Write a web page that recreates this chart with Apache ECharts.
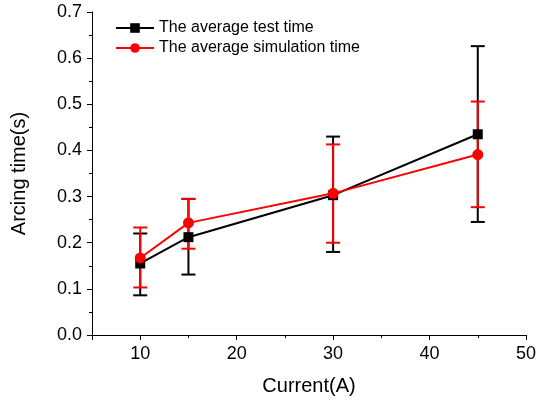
<!DOCTYPE html>
<html>
<head>
<meta charset="utf-8">
<script src="https://cdn.jsdelivr.net/npm/echarts@6/dist/echarts.min.js"></script>
<style>html,body{margin:0;padding:0;background:#fff;}#c{width:539px;height:403px;}</style>
</head>
<body>
<div id="c"></div>
<script>
// Data
var currents = [10, 15, 30, 45];
var testMean = [0.155, 0.212, 0.303, 0.435];
var testLow  = [0.086, 0.131, 0.180, 0.245];
var testHigh = [0.220, 0.295, 0.430, 0.626];
var simMean  = [0.167, 0.243, 0.307, 0.391];
var simLow   = [0.103, 0.187, 0.200, 0.277];
var simHigh  = [0.233, 0.295, 0.413, 0.506];
var xMajorTicks = [5, 10, 20, 30, 40, 50];
var xLabels = [10, 20, 30, 40, 50];
var xMinorTicks = [15, 25, 35, 45];
var yTicks = [0, 0.1, 0.2, 0.3, 0.4, 0.5, 0.6, 0.7];

var FONT = 'Liberation Sans, Arial, sans-serif';

function errSeries(name, color, low, high) {
  return {
    type: 'custom',
    name: name,
    data: currents.map(function (x, i) { return [x, low[i], high[i]]; }),
    silent: true,
    encode: { x: 0, y: [1, 2] },
    renderItem: function (params, api) {
      var x = api.value(0);
      var lo = api.coord([x, api.value(1)]);
      var hi = api.coord([x, api.value(2)]);
      var hw = 7;
      var style = { stroke: color, lineWidth: 2 };
      return {
        type: 'group',
        children: [
          { type: 'line', shape: { x1: lo[0], y1: lo[1], x2: hi[0], y2: hi[1] }, style: style },
          { type: 'line', shape: { x1: lo[0] - hw, y1: lo[1], x2: lo[0] + hw, y2: lo[1] }, style: style },
          { type: 'line', shape: { x1: hi[0] - hw, y1: hi[1], x2: hi[0] + hw, y2: hi[1] }, style: style }
        ]
      };
    },
    z: 2
  };
}

var chart = echarts.init(document.getElementById('c'), null, { renderer: 'canvas' });
chart.setOption({
  animation: false,
  backgroundColor: '#ffffff',
  textStyle: { fontFamily: FONT },
  grid: { left: 92, right: 12, top: 12, bottom: 68 },
  legend: {
    orient: 'vertical',
    left: 110,
    top: 15,
    itemWidth: 38,
    itemHeight: 12,
    itemGap: 4,
    lineStyle: { width: 2 },
    textStyle: { fontFamily: FONT, fontSize: 16, color: '#000' },
    data: ['The average test time', 'The average simulation time']
  },
  xAxis: [{
    type: 'value',
    min: 5, max: 50, interval: 5,
    position: 'bottom',
    name: 'Current(A)',
    nameLocation: 'middle',
    nameGap: 41,
    nameTextStyle: { fontFamily: FONT, fontSize: 20, color: '#000' },
    axisLine: { show: true, onZero: false, lineStyle: { color: '#000', width: 1 } },
    axisTick: { show: true, inside: false, length: 5, customValues: xMajorTicks, lineStyle: { color: '#000' } },
    axisLabel: { customValues: xLabels, fontFamily: FONT, fontSize: 18, color: '#000', margin: 10 },
    splitLine: { show: false }
  }, {
    type: 'value',
    min: 5, max: 50, interval: 5,
    position: 'top',
    offset: -323,
    axisLine: { show: false, onZero: false },
    axisTick: { show: true, inside: true, length: 3, customValues: xMinorTicks, lineStyle: { color: '#000' } },
    axisLabel: { show: false },
    splitLine: { show: false }
  }],
  yAxis: {
    type: 'value',
    min: 0, max: 0.7, interval: 0.1,
    name: 'Arcing time(s)',
    nameLocation: 'middle',
    nameGap: 63,
    nameTextStyle: { fontFamily: FONT, fontSize: 20, color: '#000' },
    axisLine: { show: true, onZero: false, lineStyle: { color: '#000', width: 1 } },
    axisTick: { show: true, inside: false, length: 5, lineStyle: { color: '#000' } },
    minorTick: { show: true, splitNumber: 2, length: 3, lineStyle: { color: '#000' } },
    axisLabel: { customValues: yTicks, fontFamily: FONT, fontSize: 18, color: '#000', margin: 10,
      formatter: function (v) { return v.toFixed(1); } },
    splitLine: { show: false },
    minorSplitLine: { show: false }
  },
  series: [
    errSeries('test error', '#000000', testLow, testHigh),
    {
      type: 'line',
      name: 'The average test time',
      data: currents.map(function (x, i) { return [x, testMean[i]]; }),
      symbol: 'rect',
      symbolSize: 10,
      itemStyle: { color: '#000000' },
      lineStyle: { color: '#000000', width: 2 },
      z: 3
    },
    errSeries('simulation error', '#ff0000', simLow, simHigh),
    {
      type: 'line',
      name: 'The average simulation time',
      data: currents.map(function (x, i) { return [x, simMean[i]]; }),
      symbol: 'circle',
      symbolSize: 11,
      itemStyle: { color: '#ff0000' },
      lineStyle: { color: '#ff0000', width: 2 },
      z: 4
    }
  ]
});
</script>
</body>
</html>
